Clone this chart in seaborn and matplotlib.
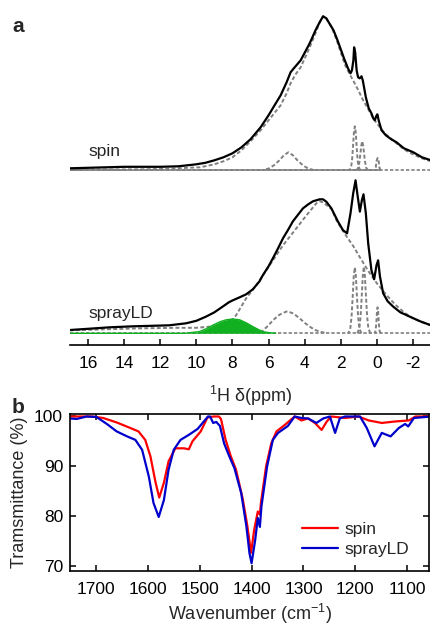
"""1H NMR deconvolution (a) and FTIR transmittance (b) for spin vs sprayLD films."""
import numpy as np
import pandas as pd
import matplotlib
matplotlib.use("Agg")
import matplotlib.pyplot as plt
import seaborn as sns

# ---- panel a: 1H NMR, intensity in arbitrary units ----
SPIN_OFFSET = 163

spin_ppm = [17, 16, 15, 14, 13, 12, 11, 10, 9.5, 9, 8.5, 8, 7.5, 7, 6.44, 6, 5.6,
            5.33, 5.0, 4.78, 4.6, 4.22, 3.72, 3.4, 3.17, 2.98, 2.8, 2.6, 2.4, 2.2,
            2.0, 1.8, 1.6, 1.46, 1.38, 1.3, 1.26, 1.2, 1.12, 1.04, 0.95, 0.85, 0.78,
            0.61, 0.45, 0.3, 0.2, 0.11, 0.04, -0.03, -0.1, -0.26, -0.5, -0.8, -1.09,
            -1.5, -2.02, -2.5, -3]
spin_int = [2, 2.5, 3, 3.5, 3.5, 3.5, 4, 6, 7.5, 10, 13, 17, 23, 31, 43, 55, 67,
            75, 88, 98, 102, 110, 127, 140, 148, 154, 152, 146, 140, 131,
            121, 111, 102, 97, 100, 110, 123, 118, 100, 93, 92, 94, 90,
            73, 62, 57, 52, 50, 54, 56, 50, 40, 35, 31, 28,
            22, 18, 13, 10]

spin_broad_ppm = [17, 15, 13, 11.5, 10.5, 9.8, 9, 8.5, 8, 7.5, 7, 6.44, 6, 5.33, 5.0,
                  4.78, 4.5, 4.22, 3.72, 3.4, 3.17, 2.98, 2.8, 2.5, 2.2, 2.0, 1.78,
                  1.5, 1.2, 1.0, 0.76, 0.5, 0.2, 0, -0.17, -0.5, -1.09, -1.5, -2,
                  -2.5, -3]
spin_broad_int = [0.5, 0.8, 1, 1.5, 2.5, 3, 6, 9, 13, 20, 29, 40, 50, 65, 77,
                  87, 96, 103, 123, 137, 148, 154, 152, 143, 129, 118, 106,
                  96, 86, 79, 70, 62, 52, 47, 43, 36, 27, 21, 16,
                  12, 9]
spin_p49_ppm = [6.3, 6.0, 5.7, 5.4, 5.15, 4.9, 4.65, 4.4, 4.1, 3.8, 3.5]
spin_p49_int = [0.3, 1.7, 5, 10, 15, 18, 15, 10, 5, 1.7, 0.3]
spin_p12_ppm = [1.52, 1.42, 1.37, 1.32, 1.27, 1.22, 1.17, 1.12, 1.07, 1.02, 0.92]
spin_p12_int = [0, 4, 11, 24, 38, 44, 38, 24, 11, 4, 0]
spin_p08_ppm = [1.13, 1.03, 0.96, 0.91, 0.86, 0.81, 0.76, 0.71, 0.66, 0.59, 0.49]
spin_p08_int = [0, 2.5, 9, 17, 25, 29, 25, 17, 9, 2.5, 0]
spin_p00_ppm = [0.12, 0.06, 0.02, -0.04, -0.10, -0.14, -0.2]
spin_p00_int = [0, 3, 9, 12.3, 9, 3, 0]

spray_ppm = [17, 16, 14.8, 13.5, 12.06, 11.5, 10.57, 10, 9.46, 9, 8.54, 8.2, 7.98,
             7.6, 7.24, 6.87, 6.5, 6.32, 6.0, 5.76, 5.5, 5.2, 4.9, 4.65, 4.35, 4.09,
             3.8, 3.54, 3.17, 2.98, 2.8, 2.52, 2.15, 1.87, 1.65, 1.46, 1.31, 1.18,
             1.06, 0.94, 0.83, 0.74, 0.61, 0.48, 0.3, 0.15, 0.02, -0.07, -0.17,
             -0.35, -0.6, -0.91, -1.3, -1.83, -2.4, -3]
spray_int = [3.3, 4.5, 6, 7, 7.7, 8, 10, 12.5, 16.7, 21, 26.7, 31, 33,
             36, 39, 44, 52, 58, 67, 75, 84, 95, 104, 112, 119, 125,
             129, 132, 134, 134, 131.6, 125, 111.6, 103, 100, 120, 140, 153,
             136.7, 121.7, 133, 139, 120, 90, 63, 54, 68, 73, 57,
             40, 32, 26.6, 21, 16.6, 12, 8]

spray_broad_ppm = [17, 15, 13, 11, 10, 9, 8.4, 7.98, 7.8, 7.24, 6.68, 5.94, 5.2, 4.46,
                   3.9, 3.35, 3.17, 2.98, 2.5, 2.24, 2.0, 1.72, 1.3, 0.94, 0.5, 0,
                   -0.5, -1.0, -1.5, -2, -2.5, -3]
spray_broad_int = [3, 4, 5, 5.5, 5.5, 7, 11, 14, 18, 35, 48, 68, 88, 105,
                   118, 130, 132, 131, 124, 113, 106, 98, 87, 76, 63, 50,
                   39, 29, 21, 15, 11, 8]
spray_p49_ppm = [6.5, 6.3, 6.0, 5.76, 5.4, 5.02, 4.93, 4.6, 4.28, 4.0, 3.72, 3.45, 3.17, 2.9]
spray_p49_int = [0, 3, 8, 13, 18.5, 21.7, 22, 19.5, 15, 10.5, 6.7, 3.5, 1.7, 0.5]
spray_green_ppm = [17, 10.6, 10.3, 9.83, 9.46, 9.1, 8.7, 8.35, 7.98, 7.6, 7.24, 6.87,
                   6.5, 6.32, 6.0, 5.6]
spray_green_int = [0, 0, 0.7, 1.7, 4.5, 8, 11.5, 13.5, 14.3, 13.5, 10.5, 6.7,
                   3.2, 1.7, 0.7, 0]
spray_p12_ppm = [1.58, 1.47, 1.40, 1.34, 1.28, 1.22, 1.16, 1.10, 1.04, 0.97, 0.86]
spray_p12_int = [0, 5, 17, 36, 57, 66, 57, 36, 17, 5, 0]
spray_p07_ppm = [1.08, 0.97, 0.90, 0.84, 0.78, 0.72, 0.66, 0.60, 0.54, 0.47, 0.36]
spray_p07_int = [0, 5, 17, 36, 57, 66.7, 57, 36, 17, 5, 0]
spray_p00_ppm = [0.13, 0.07, 0.03, -0.01, -0.04, -0.07, -0.11, -0.15, -0.21]
spray_p00_int = [0, 2.5, 10, 22, 26, 22, 10, 2.5, 0]

ppm_ticks = [16, 14, 12, 10, 8, 6, 4, 2, 0, -2]

# ---- panel b: FTIR ----
ir_spin_wn = [1750, 1708, 1686, 1660, 1634, 1618, 1605, 1595, 1585, 1578, 1569, 1560,
              1547, 1530, 1521, 1514, 1498, 1485, 1473, 1463, 1459, 1450, 1440, 1430,
              1417, 1408, 1401, 1395, 1388, 1384, 1382, 1372, 1362, 1352, 1336, 1317,
              1304, 1291, 1278, 1265, 1255, 1246, 1220, 1194, 1174, 1149, 1123, 1097,
              1084, 1053]
ir_spin_t = [100, 100, 99.7, 98.8, 97.7, 97.0, 95.3, 92, 86.7, 83.7, 86.7, 91,
             93.6, 93.6, 93.4, 95, 97, 99.8, 100, 100, 99.5, 95.3, 92, 89.3,
             83.4, 77.9, 72.6, 77.2, 80.9, 80.3, 82.6, 90, 94.6, 97, 98.3, 100,
             99.2, 99.6, 98.7, 97.3, 99, 100, 99.7, 100, 99.2, 98.7, 99, 99.2,
             100, 100]
ir_spray_wn = [1750, 1737, 1718, 1699, 1679, 1660, 1640, 1624, 1611, 1598, 1589, 1579,
               1569, 1560, 1550, 1537, 1521, 1504, 1492, 1484, 1480, 1474, 1468, 1461,
               1453, 1443, 1433, 1420, 1410, 1404, 1400, 1393, 1388, 1384, 1381, 1370,
               1359, 1349, 1330, 1317, 1304, 1291, 1275, 1262, 1249, 1239, 1230, 1220,
               1191, 1178, 1163, 1149, 1132, 1116, 1104, 1098, 1087, 1053]
ir_spray_t = [99.6, 99.5, 100, 99.9, 98.5, 97, 96, 95.3, 93.3, 87.9, 82.6, 79.8,
              83.2, 89.3, 93.3, 95.3, 96.3, 97.5, 99, 100, 100, 98.7, 98.9, 98.1,
              94.6, 92, 89.6, 84.6, 77.9, 72.5, 70.5, 75.2, 79.6, 77.8, 81.9, 90,
              95.3, 96.7, 98.1, 100, 99.7, 99.6, 98.7, 99.6, 100, 96.7, 99.6, 100,
              100, 97.7, 94, 96.7, 96, 97.7, 98.5, 98, 99.7, 100]
ir_ticks = [1700, 1600, 1500, 1400, 1300, 1200, 1100]
ir_yticks = [70, 80, 90, 100]

sns.set_theme(style="ticks")
plt.rcParams["font.family"] = ["Liberation Sans", "DejaVu Sans"]
plt.rcParams["mathtext.fontset"] = "custom"
plt.rcParams["mathtext.rm"] = "Liberation Sans"

W, H = 431, 629
fig = plt.figure(figsize=(W / 100, H / 100), dpi=100)

GRAY = "#808080"
DOT = (0, (2.0, 1.2))


def line(ax, x, y, offset=0, **kw):
    df = pd.DataFrame({"x": x, "y": np.asarray(y, dtype=float) + offset})
    sns.lineplot(data=df, x="x", y="y", ax=ax, legend=False, **kw)


# panel a
axa = fig.add_axes([70 / W, 1 - 345 / H, 361 / W, 337 / H])
axa.axhline(SPIN_OFFSET, color=GRAY, lw=1.2, ls=DOT, zorder=1)
axa.axhline(0, color=GRAY, lw=1.2, ls=DOT, zorder=1)
line(axa, [17, -0.17], [0, 0], SPIN_OFFSET, color=GRAY, lw=1.2, zorder=2)

for xs, ys, off in [
    (spin_broad_ppm, spin_broad_int, SPIN_OFFSET),
    (spin_p49_ppm, spin_p49_int, SPIN_OFFSET),
    (spin_p12_ppm, spin_p12_int, SPIN_OFFSET),
    (spin_p08_ppm, spin_p08_int, SPIN_OFFSET),
    (spin_p00_ppm, spin_p00_int, SPIN_OFFSET),
    (spray_broad_ppm, spray_broad_int, 0),
    (spray_p49_ppm, spray_p49_int, 0),
    (spray_p12_ppm, spray_p12_int, 0),
    (spray_p07_ppm, spray_p07_int, 0),
    (spray_p00_ppm, spray_p00_int, 0),
]:
    line(axa, xs, ys, off, color=GRAY, lw=1.4, ls=DOT, zorder=3)

axa.fill_between(spray_green_ppm, 0, spray_green_int, color="#10b020", lw=0, zorder=4)
line(axa, spray_green_ppm, spray_green_int, color="#10b020", lw=1.0, zorder=4)

line(axa, spin_ppm, spin_int, SPIN_OFFSET, color="black", lw=1.6, zorder=5)
line(axa, spray_ppm, spray_int, color="black", lw=1.6, zorder=5)

axa.text(16, SPIN_OFFSET + 14, "spin", fontsize=12.5, va="baseline", ha="left")
axa.text(16, 15, "sprayLD", fontsize=12.5, va="baseline", ha="left")

axa.set_xlim(17, -3)
axa.set_ylim(-11.7, 325.3)
axa.set_xticks(ppm_ticks)
axa.set_xticklabels([str(t) for t in ppm_ticks])
axa.set_yticks([])
axa.set_ylabel("")
axa.set_xlabel("$^{1}$H δ(ppm)", fontsize=13, labelpad=9)
for s in ["left", "right", "top"]:
    axa.spines[s].set_visible(False)
axa.spines["bottom"].set_linewidth(1.2)
axa.spines["bottom"].set_color("black")
axa.tick_params(axis="x", direction="in", length=4, width=1.1, labelsize=12.5,
                pad=8, colors="black")

# panel b
axb = fig.add_axes([70 / W, 1 - 570.7 / H, 359 / W, 156.7 / H])
line(axb, ir_spin_wn, ir_spin_t, color="#ff0000", lw=1.6, label="spin")
line(axb, ir_spray_wn, ir_spray_t, color="#0000cc", lw=1.6, label="sprayLD")
axb.set_xlim(1750, 1058)
axb.set_ylim(69.0, 100.5)
axb.set_xticks(ir_ticks)
axb.set_yticks(ir_yticks)
axb.set_xlabel("Wavenumber (cm$^{-1}$)", fontsize=13, labelpad=4)
axb.set_ylabel("Tramsmittance (%)", fontsize=13, labelpad=4)
for s in axb.spines.values():
    s.set_linewidth(1.2)
    s.set_color("black")
axb.tick_params(direction="in", length=4, width=1.1, labelsize=12.5, top=True,
                right=True, colors="black")
axb.tick_params(axis="x", pad=8)
axb.tick_params(axis="y", pad=5)
axb.legend(handles=axb.get_lines(), labels=["spin", "sprayLD"], loc="center left",
           bbox_to_anchor=(0.645, 0.2), frameon=False, fontsize=12.5,
           handlelength=2.1, handletextpad=0.4, labelspacing=0.3,
           borderaxespad=0, borderpad=0)

fig.text(12 / W, 1 - 32 / H, "a", fontsize=15, fontweight="bold", va="baseline")
fig.text(12 / W, 1 - 413 / H, "b", fontsize=15, fontweight="bold", va="baseline")

fig.savefig("out.png", dpi=100)
